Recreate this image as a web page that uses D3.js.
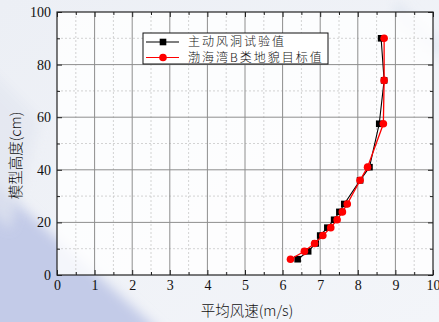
<!DOCTYPE html>
<html>
<head>
<meta charset="utf-8">
<script src="https://cdn.jsdelivr.net/npm/d3@7/dist/d3.min.js"></script>
<style>
  html, body { margin: 0; padding: 0; background: #eef0f5; }
  svg { display: block; }
</style>
</head>
<body>
<svg id="chart" width="439" height="322"></svg>
<script>
// Model height (cm) at each measuring point
const heights = [6, 9, 12, 15, 18, 21, 24, 27, 36, 41, 57.5, 74, 90];
// Mean wind speed measured in the active wind tunnel (m/s)
const tunnelSpeed = [6.40, 6.68, 6.88, 7.00, 7.19, 7.37, 7.51, 7.64, 8.06, 8.31, 8.57, 8.70, 8.62];
// Target profile for Bohai Bay, terrain category B (m/s)
const targetSpeed = [6.21, 6.58, 6.85, 7.07, 7.28, 7.45, 7.59, 7.72, 8.06, 8.26, 8.68, 8.70, 8.70];

const xTicks = [0, 1, 2, 3, 4, 5, 6, 7, 8, 9, 10];
const yTicks = [0, 20, 40, 60, 80, 100];
const seriesNames = ["主动风洞试验值", "渤海湾B类地貌目标值"];
const xTitle = "平均风速(m/s)";
const yTitle = "模型高度(cm)";

const svg = d3.select("#chart");
const W = 439, H = 322;
const pLeft = 57, pRight = 433, pTop = 12, pBottom = 275;

const x = d3.scaleLinear().domain([0, 10]).range([pLeft, pRight]);
const y = d3.scaleLinear().domain([0, 100]).range([pBottom, pTop]);

// Page backdrop: pale grey with a soft blue diagonal band in the lower left
const defs = svg.append("defs");
const blur = defs.append("filter").attr("id", "soft").attr("x", "-20%").attr("y", "-20%").attr("width", "140%").attr("height", "140%");
blur.append("feGaussianBlur").attr("stdDeviation", 6);
const bg = defs.append("linearGradient").attr("id", "bgGrad")
  .attr("x1", "0").attr("y1", "0").attr("x2", "1").attr("y2", "1");
bg.append("stop").attr("offset", "0%").attr("stop-color", "#eceff5");
bg.append("stop").attr("offset", "100%").attr("stop-color", "#f3f5f9");
svg.append("rect").attr("width", W).attr("height", H).attr("fill", "url(#bgGrad)");
svg.append("path")
  .attr("d", "M-20,170 L170,340 L-20,340 Z")
  .attr("fill", "#c3cbe8").attr("filter", "url(#soft)");
svg.append("path")
  .attr("d", "M-20,60 L40,120 L10,230 L-20,200 Z")
  .attr("fill", "#e2e6f0").attr("opacity", 0.7).attr("filter", "url(#soft)");
svg.append("path")
  .attr("d", "M395,0 L439,40 L439,60 L395,20 Z")
  .attr("fill", "#d6deec").attr("opacity", 0.6).attr("filter", "url(#soft)");

// Plot area (slightly translucent so the backdrop shows through)
svg.append("rect")
  .attr("x", pLeft).attr("y", pTop)
  .attr("width", pRight - pLeft).attr("height", pBottom - pTop)
  .attr("fill", "#ffffff").attr("opacity", 0.82);

// Minor grid (dashed)
const xMinor = d3.range(0.5, 10, 1);
const yMinor = d3.range(10, 100, 20);
const grid = svg.append("g");
grid.selectAll(".xm").data(xMinor).join("line")
  .attr("x1", d => x(d)).attr("x2", d => x(d)).attr("y1", pTop).attr("y2", pBottom)
  .attr("stroke", "#c8c8c8").attr("stroke-width", 0.8).attr("stroke-dasharray", "2,2");
grid.selectAll(".ym").data(yMinor).join("line")
  .attr("x1", pLeft).attr("x2", pRight).attr("y1", d => y(d)).attr("y2", d => y(d))
  .attr("stroke", "#c8c8c8").attr("stroke-width", 0.8).attr("stroke-dasharray", "2,2");
// Major grid (solid)
grid.selectAll(".xM").data(xTicks.slice(1, -1)).join("line")
  .attr("x1", d => x(d)).attr("x2", d => x(d)).attr("y1", pTop).attr("y2", pBottom)
  .attr("stroke", "#8e8e8e").attr("stroke-width", 1);
grid.selectAll(".yM").data(yTicks.slice(1, -1)).join("line")
  .attr("x1", pLeft).attr("x2", pRight).attr("y1", d => y(d)).attr("y2", d => y(d))
  .attr("stroke", "#8e8e8e").attr("stroke-width", 1);

// Axes with inward ticks on all four sides
const tickFont = "'Liberation Serif', 'Times New Roman', serif";
function styleAxis(g) {
  g.select(".domain").remove();
  g.selectAll("line").attr("stroke", "#222").attr("stroke-width", 1);
  g.selectAll("text").attr("font-family", tickFont).attr("font-size", 14).attr("fill", "#111");
}
svg.append("g").attr("transform", `translate(0,${pBottom})`)
  .call(d3.axisBottom(x).tickValues(xTicks).tickFormat(d3.format("d")).tickSizeInner(-5).tickSizeOuter(0).tickPadding(5))
  .call(styleAxis);
svg.append("g").attr("transform", `translate(0,${pBottom})`)
  .call(d3.axisBottom(x).tickValues(xMinor).tickFormat("").tickSizeInner(-3).tickSizeOuter(0))
  .call(styleAxis);
svg.append("g").attr("transform", `translate(0,${pTop})`)
  .call(d3.axisTop(x).tickValues(xTicks).tickFormat("").tickSizeInner(-5).tickSizeOuter(0))
  .call(styleAxis);
svg.append("g").attr("transform", `translate(0,${pTop})`)
  .call(d3.axisTop(x).tickValues(xMinor).tickFormat("").tickSizeInner(-3).tickSizeOuter(0))
  .call(styleAxis);
svg.append("g").attr("transform", `translate(${pLeft},0)`)
  .call(d3.axisLeft(y).tickValues(yTicks).tickFormat(d3.format("d")).tickSizeInner(-5).tickSizeOuter(0).tickPadding(6))
  .call(styleAxis);
svg.append("g").attr("transform", `translate(${pLeft},0)`)
  .call(d3.axisLeft(y).tickValues(yMinor).tickFormat("").tickSizeInner(-3).tickSizeOuter(0))
  .call(styleAxis);
svg.append("g").attr("transform", `translate(${pRight},0)`)
  .call(d3.axisRight(y).tickValues(yTicks).tickFormat("").tickSizeInner(-5).tickSizeOuter(0))
  .call(styleAxis);
svg.append("g").attr("transform", `translate(${pRight},0)`)
  .call(d3.axisRight(y).tickValues(yMinor).tickFormat("").tickSizeInner(-3).tickSizeOuter(0))
  .call(styleAxis);

// Frame
svg.append("rect")
  .attr("x", pLeft).attr("y", pTop)
  .attr("width", pRight - pLeft).attr("height", pBottom - pTop)
  .attr("fill", "none").attr("stroke", "#222").attr("stroke-width", 1.2);

// Series
const line = d3.line().x(d => x(d[0])).y(d => y(d[1]));
const tunnel = tunnelSpeed.map((v, i) => [v, heights[i]]);
const target = targetSpeed.map((v, i) => [v, heights[i]]);

svg.append("path").datum(tunnel).attr("d", line)
  .attr("fill", "none").attr("stroke", "#000").attr("stroke-width", 1.1);
svg.append("g").selectAll("rect").data(tunnel).join("rect")
  .attr("x", d => x(d[0]) - 3.3).attr("y", d => y(d[1]) - 3.3)
  .attr("width", 6.6).attr("height", 6.6).attr("fill", "#000");

svg.append("path").datum(target).attr("d", line)
  .attr("fill", "none").attr("stroke", "#ff0000").attr("stroke-width", 1.3);
svg.append("g").selectAll("circle").data(target).join("circle")
  .attr("cx", d => x(d[0])).attr("cy", d => y(d[1])).attr("r", 3.8)
  .attr("fill", "#ff0000");

// Legend
const cjkFont = "'Noto Sans CJK SC', 'Noto Sans', sans-serif";
const lg = svg.append("g").attr("transform", "translate(143,33)");
lg.append("rect").attr("width", 185).attr("height", 31)
  .attr("fill", "#fff").attr("stroke", "#111").attr("stroke-width", 1);
const entries = [
  { name: seriesNames[0], color: "#000", shape: "square", cy: 9 },
  { name: seriesNames[1], color: "#ff0000", shape: "circle", cy: 24.5 }
];
entries.forEach(e => {
  lg.append("line").attr("x1", 3).attr("x2", 36).attr("y1", e.cy).attr("y2", e.cy)
    .attr("stroke", e.color).attr("stroke-width", 1.1);
  if (e.shape === "square") {
    lg.append("rect").attr("x", 20 - 3.3).attr("y", e.cy - 3.3).attr("width", 6.6).attr("height", 6.6).attr("fill", e.color);
  } else {
    lg.append("circle").attr("cx", 20).attr("cy", e.cy).attr("r", 3.8).attr("fill", e.color);
  }
  lg.append("text").attr("x", 45).attr("y", e.cy).attr("dy", "0.36em")
    .attr("font-family", cjkFont).attr("font-size", 12).attr("font-weight", 300)
    .attr("fill", "#111").attr("letter-spacing", 2).text(e.name);
});

// Axis titles
svg.append("text").attr("x", (pLeft + pRight) / 2 + 2).attr("y", 311).attr("dy", "0.35em")
  .attr("text-anchor", "middle").attr("font-family", cjkFont).attr("font-size", 14.5)
  .attr("font-weight", 300).attr("fill", "#111").text(xTitle);
svg.append("text")
  .attr("transform", `translate(16,${(pTop + pBottom) / 2 + 12}) rotate(-90)`)
  .attr("dy", "0.35em").attr("text-anchor", "middle")
  .attr("font-family", cjkFont).attr("font-size", 14.5).attr("font-weight", 300)
  .attr("fill", "#111").text(yTitle);
</script>
</body>
</html>
